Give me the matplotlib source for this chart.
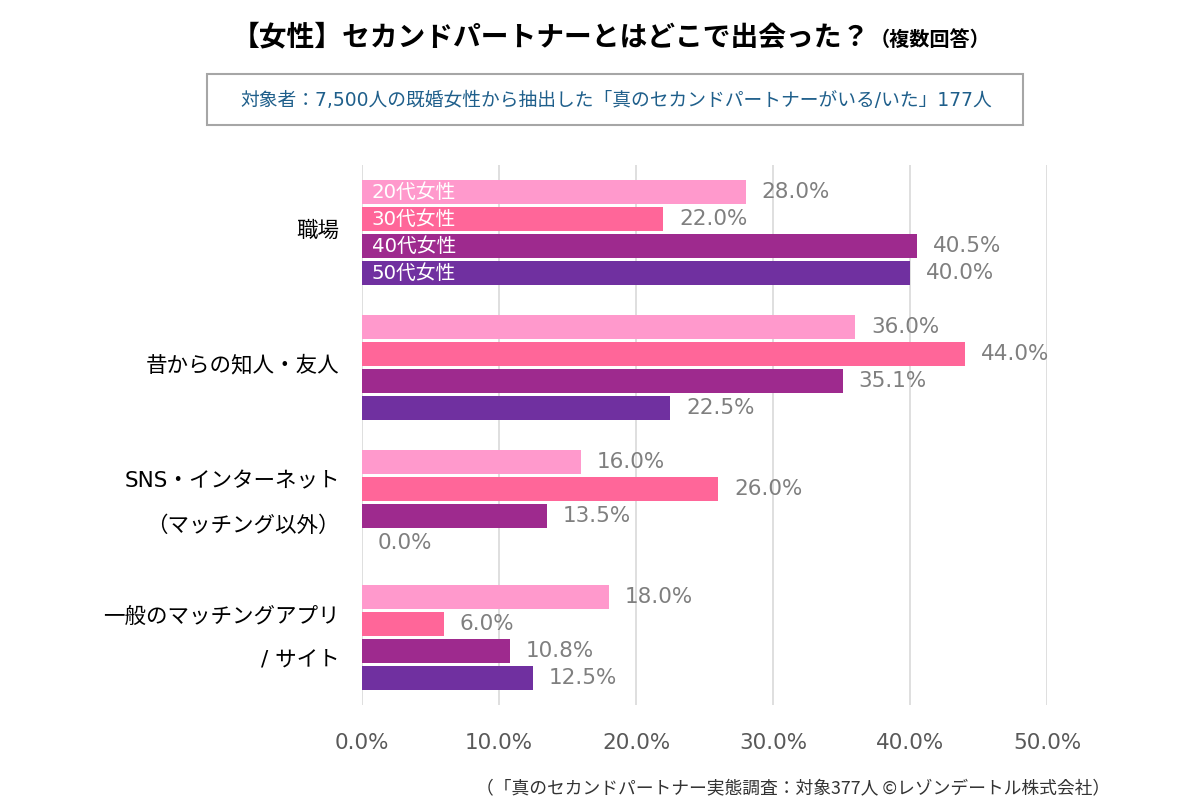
import numpy as np
import matplotlib
matplotlib.use("Agg")
from matplotlib import pyplot as plt
from matplotlib.patches import Rectangle
from matplotlib.transforms import ScaledTranslation

# 英数字は DejaVu（Meiryo 風）、日本語は Noto
plt.rcParams['font.family'] = ['DejaVu Sans', 'Noto Sans CJK JP']
jp = ['Noto Sans CJK JP', 'DejaVu Sans']

# データ
categories = ['職場', '昔からの知人・友人', 'SNS・インターネット\n（マッチング以外）', '一般のマッチングアプリ\n/ サイト']
series_names = ['20代女性', '30代女性', '40代女性', '50代女性']
v20 = [28.0, 36.0, 16.0, 18.0]
v30 = [22.0, 44.0, 26.0, 6.0]
v40 = [40.5, 35.1, 13.5, 10.8]
v50 = [40.0, 22.5, 0.0, 12.5]
colors = ['#FF99CC', '#FF6699', '#9E2A8E', '#7030A0']
xticks = [0, 10, 20, 30, 40, 50]

series = [v20, v30, v40, v50]

fig = plt.figure(figsize=(12, 8), dpi=100)
ax = fig.add_axes([362 / 1200, 1 - 705 / 800, (1047 - 362) / 1200, (705 - 165) / 800])

y = np.arange(len(categories))
step = 0.2
h = 0.185
for k, (vals, c, name) in enumerate(zip(series, colors, series_names)):
    pos = y + (k - 1.5) * step
    ax.barh(pos, vals, height=h, color=c, zorder=3)
    for p, v in zip(pos, vals):
        ax.text(v + 1.15, p, f'{v:.1f}%', va='center', ha='left', fontsize=15.5, color='#7F7F7F', zorder=4)
    # 凡例代わりのラベル（最初のグループ内）
    ax.text(0.7, pos[0], name, va='center', ha='left', fontsize=14.2, color='white', zorder=4)

ax.set_xlim(0, 50)
ax.set_ylim(3.5, -0.5)
ax.set_xticks(xticks)
ax.set_xticklabels([f'{t:.1f}%' for t in xticks], fontsize=15.5, color='#595959')
ax.set_yticks(y)
ax.set_yticklabels(categories, fontsize=15.5, color='black', linespacing=2.46)
ax.tick_params(axis='both', length=0)
ax.tick_params(axis='x', pad=20)
ax.tick_params(axis='y', pad=16)
# カテゴリラベルを少し上へ（2行のものはさらに上）
for lab in ax.get_yticklabels():
    dy = 13 if '\n' in lab.get_text() else 4
    lab.set_transform(lab.get_transform() + ScaledTranslation(0, dy / 100, fig.dpi_scale_trans))
ax.grid(axis='x', color='#D9D9D9', linewidth=1.2, zorder=0)
for s in ax.spines.values():
    s.set_visible(False)

# タイトル
fig.text(0.725, 1 - 37 / 800, '【女性】セカンドパートナーとはどこで出会った？', ha='right', va='center',
         fontsize=20, fontweight='bold', color='black', family=jp)
fig.text(0.725, 1 - 39 / 800, '（複数回答）', ha='left', va='center',
         fontsize=14.5, fontweight='bold', color='black', family=jp)

# 対象者ボックス
fig.add_artist(Rectangle((207 / 1200, 1 - 125 / 800), (1023 - 207) / 1200, 51 / 800,
                         transform=fig.transFigure, fill=False, edgecolor='#A6A6A6', linewidth=1.5))
fig.text(616 / 1200, 1 - 100 / 800, '対象者：7,500人の既婚女性から抽出した「真のセカンドパートナーがいる/いた」177人',
         ha='center', va='center', fontsize=13.5, color='#1F5F8B')

# 出典
fig.text(1110 / 1200, 1 - 788 / 800, '（「真のセカンドパートナー実態調査：対象377人 ©レゾンデートル株式会社）',
         ha='right', va='center', fontsize=12.8, color='#333333', family=jp)

fig.savefig('out.png', dpi=100)
